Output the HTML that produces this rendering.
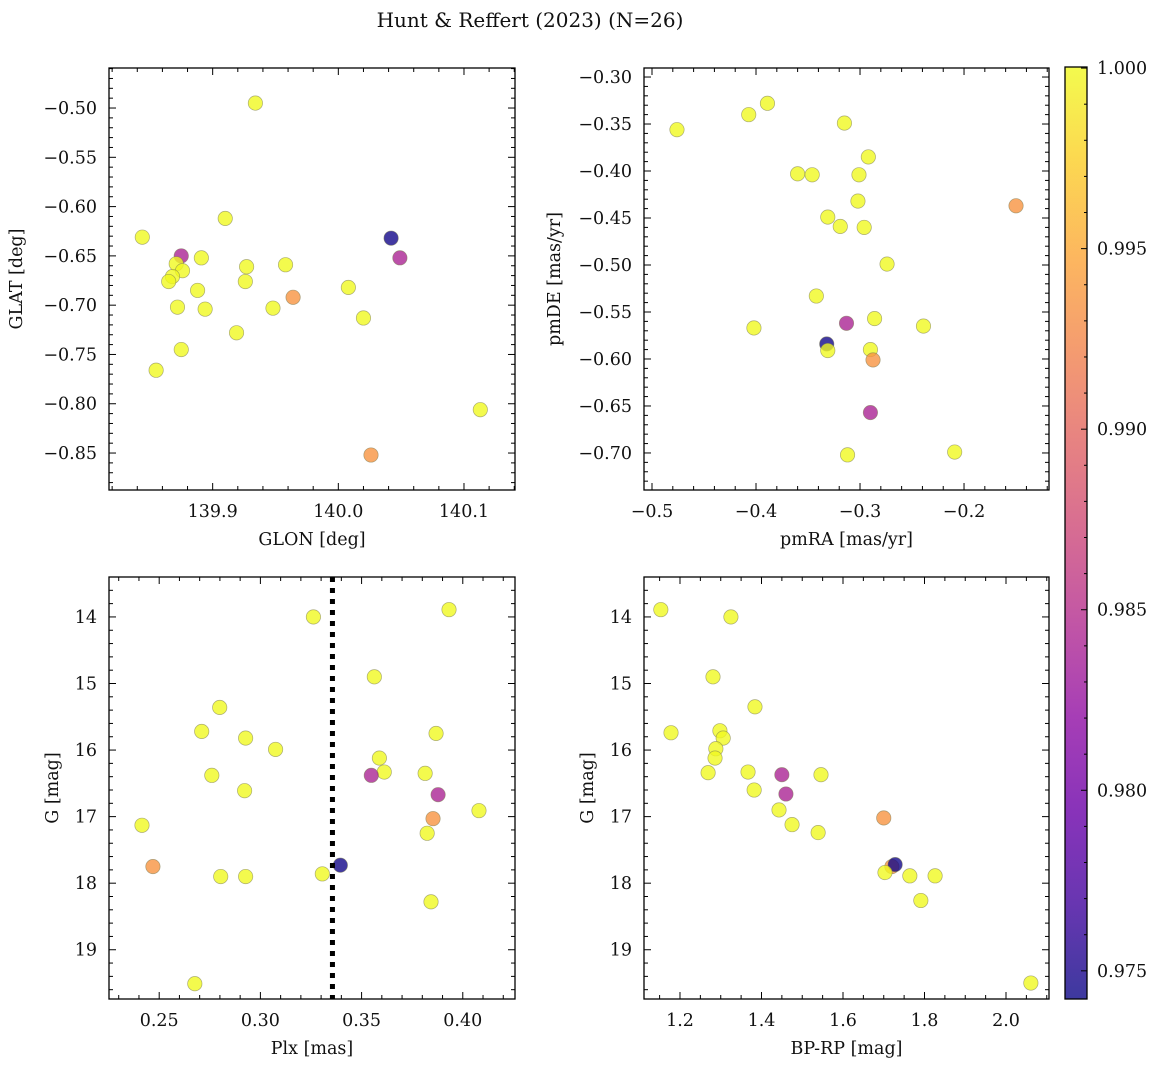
<!DOCTYPE html>
<html><head><meta charset="utf-8">
<style>
html,body{margin:0;padding:0;background:#fff;}
svg{display:block;font-family:"DejaVu Serif","Liberation Serif",serif;}
</style></head>
<body>
<svg id="fig" width="1161" height="1067" viewBox="0 0 1161 1067" xmlns="http://www.w3.org/2000/svg">
<text x="530" y="27" text-anchor="middle" font-size="20" fill="#111">Hunt &amp; Reffert (2023) (N=26)</text>
</svg>
<script>
// ---- data ----
const glon=[139.934,139.844,139.910,139.875,139.871,139.876,139.868,139.865,139.891,139.888,139.872,139.894,139.875,139.855,139.919,139.927,139.926,139.958,139.948,139.964,140.008,140.020,140.042,140.049,140.026,140.113];
const glat=[-0.495,-0.631,-0.612,-0.650,-0.658,-0.665,-0.671,-0.676,-0.652,-0.685,-0.702,-0.704,-0.745,-0.766,-0.728,-0.661,-0.676,-0.659,-0.703,-0.692,-0.682,-0.713,-0.632,-0.652,-0.852,-0.806];
const probP1=[1,1,1,0.984,1,1,1,1,1,1,1,1,1,1,1,1,1,1,1,0.9935,1,1,0.9745,0.984,0.9935,1];
const pmra=[-0.476,-0.407,-0.389,-0.315,-0.292,-0.360,-0.346,-0.301,-0.302,-0.331,-0.319,-0.296,-0.274,-0.150,-0.342,-0.313,-0.286,-0.239,-0.402,-0.332,-0.331,-0.290,-0.2875,-0.290,-0.312,-0.209];
const pmde=[-0.356,-0.340,-0.328,-0.349,-0.385,-0.403,-0.404,-0.404,-0.432,-0.449,-0.459,-0.460,-0.499,-0.437,-0.533,-0.562,-0.557,-0.565,-0.567,-0.584,-0.591,-0.590,-0.601,-0.657,-0.702,-0.699];
const probP2=[1,1,1,1,1,1,1,1,1,1,1,1,1,0.9935,1,0.984,1,1,1,0.9745,1,1,0.9935,0.984,1,1];
const plx=[0.3262,0.3932,0.3563,0.2799,0.2710,0.2927,0.3075,0.3868,0.3588,0.3612,0.2760,0.3548,0.3814,0.2922,0.3878,0.2415,0.4080,0.3853,0.3824,0.2469,0.3306,0.3395,0.2804,0.2927,0.3843,0.2676];
const gmagP3=[14.0,13.89,14.90,15.36,15.72,15.82,15.99,15.75,16.12,16.33,16.38,16.38,16.35,16.61,16.67,17.13,16.91,17.03,17.25,17.75,17.86,17.73,17.90,17.90,18.28,19.51];
const probP3=[1,1,1,1,1,1,1,1,1,1,1,0.984,1,1,0.984,1,1,0.9935,1,0.9935,1,0.9745,1,1,1,1];
const bprp=[1.153,1.325,1.281,1.384,1.178,1.298,1.306,1.288,1.286,1.269,1.367,1.382,1.450,1.546,1.460,1.443,1.475,1.539,1.700,1.720,1.728,1.703,1.764,1.826,1.791,2.061];
const gmagP4=[13.89,14.0,14.90,15.35,15.74,15.71,15.82,15.98,16.12,16.34,16.33,16.60,16.37,16.37,16.66,16.90,17.12,17.24,17.02,17.75,17.72,17.84,17.89,17.89,18.26,19.50];
const probP4=[1,1,1,1,1,1,1,1,1,1,1,1,0.984,1,0.984,1,1,1,0.9935,0.9935,0.9745,1,1,1,1,1];
const plxCut=[0.3356];
const cbTicks=[0.975,0.980,0.985,0.990,0.995,1.000];
const cmin=0.97422,cmax=1.00003;

const NS="http://www.w3.org/2000/svg";
const svg=document.getElementById('fig');
function el(tag,attrs,parent){const e=document.createElementNS(NS,tag);for(const k in attrs)e.setAttribute(k,attrs[k]);(parent||svg).appendChild(e);return e;}
const stops=["#0d0887","#41049d","#6a00a8","#8f0da4","#b12a90","#cc4778","#e16462","#f2844b","#fca636","#fcce25","#f0f921"];
function hex(h){return[parseInt(h.slice(1,3),16),parseInt(h.slice(3,5),16),parseInt(h.slice(5,7),16)];}
function plasma(t){t=Math.max(0,Math.min(1,t));const f=t*10,i=Math.min(9,Math.floor(f)),r=f-i;const a=hex(stops[i]),b=hex(stops[i+1]);return "rgb("+a.map((v,k)=>Math.round(v+(b[k]-v)*r)).join(",")+")";}
function cnorm(p){return (p-cmin)/(cmax-cmin);}
function fmt(v,d){const s=Math.abs(v).toFixed(d);return (v<-1e-9?"\u2212":"")+s;}

function panel(cfg){
  const g=el('g',{},svg);
  
  
  const {L,T,R,B}=cfg;
  const sx=v=>L+(v-cfg.x0)/(cfg.x1-cfg.x0)*(R-L);
  const sy=cfg.inv? v=>T+(v-cfg.y0)/(cfg.y1-cfg.y0)*(B-T) : v=>B-(v-cfg.y0)/(cfg.y1-cfg.y0)*(B-T);
  const pg=el('g',{},g);
  
  
  for(let i=0;i<cfg.xs.length;i++){
    const c=el('circle',{cx:sx(cfg.xs[i]),cy:sy(cfg.ys[i]),r:7.2,fill:plasma(cnorm(cfg.ps[i])),'fill-opacity':0.8,stroke:'#7a7a50','stroke-opacity':0.6,'stroke-width':0.7},pg);
    
    
  }
  if(cfg.vline){const ln=el('line',{x1:sx(cfg.vline),x2:sx(cfg.vline),y1:T,y2:B,stroke:'#000','stroke-width':5,'stroke-dasharray':'5,6'},g);
    
    }
  const tg=el('g',{stroke:'#000','stroke-width':1},g);
  const eps=1e-9;
  for(let v=Math.ceil(cfg.x0/cfg.xmin-eps)*cfg.xmin; v<=cfg.x1+eps; v+=cfg.xmin){
    const x=sx(v);const major=Math.abs(v/cfg.xmaj-Math.round(v/cfg.xmaj))<1e-4;const len=major?7:4;
    el('line',{x1:x,x2:x,y1:B,y2:B-len},tg);el('line',{x1:x,x2:x,y1:T,y2:T+len},tg);
    if(major){const t=el('text',{x:x,y:B+27,'text-anchor':'middle','font-size':17.5,fill:'#111',stroke:'none'},g);t.textContent=fmt(v,cfg.xd);
      }
  }
  for(let v=Math.ceil(Math.min(cfg.y0,cfg.y1)/cfg.ymin-eps)*cfg.ymin; v<=Math.max(cfg.y0,cfg.y1)+eps; v+=cfg.ymin){
    const y=sy(v);const major=Math.abs(v/cfg.ymaj-Math.round(v/cfg.ymaj))<1e-4;const len=major?7:4;
    el('line',{x1:L,x2:L+len,y1:y,y2:y},tg);el('line',{x1:R,x2:R-len,y1:y,y2:y},tg);
    if(major){const t=el('text',{x:L-12,y:y+6,'text-anchor':'end','font-size':17.5,fill:'#111',stroke:'none'},g);t.textContent=fmt(v,cfg.yd);
      }
  }
  const fr=el('rect',{x:L,y:T,width:R-L,height:B-T,fill:'none',stroke:'#000','stroke-width':1.3},g);
  
  const xl=el('text',{x:(L+R)/2,y:B+55,'text-anchor':'middle','font-size':17.5,fill:'#111'},g);xl.textContent=cfg.xlab;
  
  const yx=cfg.ylx,yy=(T+B)/2;
  const yl=el('text',{x:yx,y:yy,'text-anchor':'middle','font-size':17.5,fill:'#111',transform:'rotate(-90 '+yx+' '+yy+')'},g);yl.textContent=cfg.ylab;
  
}

panel({name:'glon-glat-panel',L:109,T:68,R:515,B:490,x0:139.8175,x1:140.1406,y0:-0.8875,y1:-0.4594,xmaj:0.1,xmin:0.02,ymaj:0.05,ymin:0.01,xd:1,yd:2,xs:glon,ys:glat,ps:probP1,xlab:'GLON [deg]',ylab:'GLAT [deg]',ylx:22});
panel({name:'proper-motion-panel',L:644,T:68,R:1049,B:490,x0:-0.5077,x1:-0.1183,y0:-0.7394,y1:-0.2904,xmaj:0.1,xmin:0.02,ymaj:0.05,ymin:0.01,xd:1,yd:2,xs:pmra,ys:pmde,ps:probP2,xlab:'pmRA [mas/yr]',ylab:'pmDE [mas/yr]',ylx:560});
panel({name:'parallax-mag-panel',L:109,T:577,R:515,B:999,x0:0.2252,x1:0.4258,y0:13.40,y1:19.74,inv:true,xmaj:0.05,xmin:0.01,ymaj:1,ymin:0.2,xd:2,yd:0,xs:plx,ys:gmagP3,ps:probP3,xlab:'Plx [mas]',ylab:'G [mag]',ylx:58,vline:plxCut[0]});
panel({name:'cmd-panel',L:644,T:577,R:1049,B:999,x0:1.1117,x1:2.1055,y0:13.40,y1:19.74,inv:true,xmaj:0.2,xmin:0.05,ymaj:1,ymin:0.2,xd:1,yd:0,xs:bprp,ys:gmagP4,ps:probP4,xlab:'BP-RP [mag]',ylab:'G [mag]',ylx:593});

const cg=el('g',{},svg);


const defs=el('defs',{},svg);
const lg=el('linearGradient',{id:'cbg',x1:0,y1:1,x2:0,y2:0},defs);
for(let i=0;i<=20;i++){el('stop',{offset:i/20,'stop-color':plasma(i/20)},lg);}
const CL=1065,CR=1087,CT=67,CB=999;
el('rect',{x:CL,y:CT,width:CR-CL,height:CB-CT,fill:'url(#cbg)','fill-opacity':0.8},cg);
el('rect',{x:CL,y:CT,width:CR-CL,height:CB-CT,fill:'none',stroke:'#000','stroke-width':1.3},cg);
const cy=v=>CB-(v-cmin)/(cmax-cmin)*(CB-CT);
for(let v=0.975;v<=1.00001;v+=0.001){el('line',{x1:CR,x2:CR-(Math.abs(v*200-Math.round(v*200))<1e-4?6:3),y1:cy(v),y2:cy(v),stroke:'#000','stroke-width':1},cg);}
for(const v of cbTicks){const t=el('text',{x:CR+10,y:cy(v)+6,'font-size':17.5,fill:'#111'},cg);t.textContent=v.toFixed(3);
  }
</script>
</body></html>
